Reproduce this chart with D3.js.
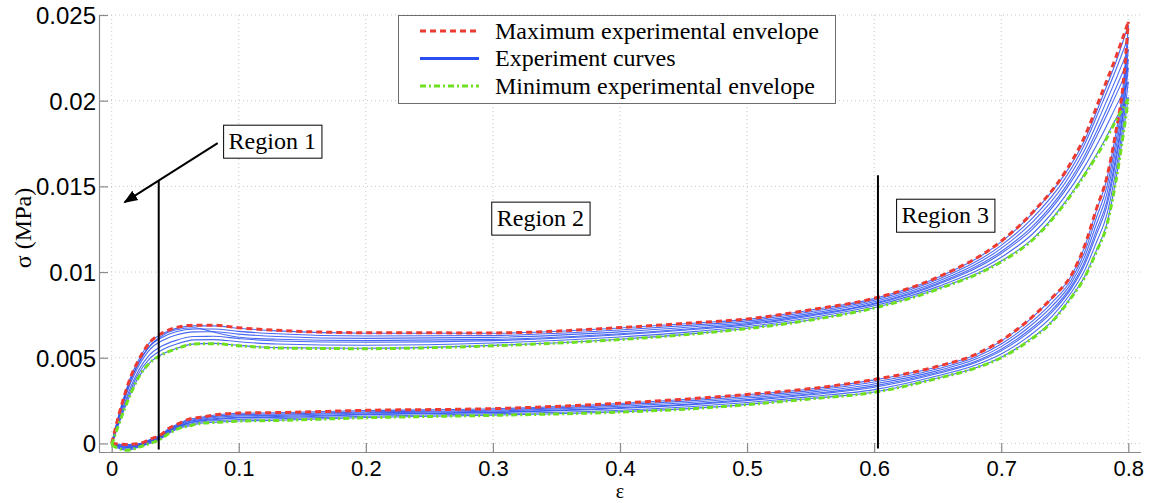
<!DOCTYPE html>
<html><head><meta charset="utf-8">
<script src="https://cdn.jsdelivr.net/npm/d3@7"></script>
<style>body{margin:0;background:#fff;overflow:hidden}</style>
</head><body><svg id="c" width="1149" height="503"></svg>
<script>
// ---------- DATA ----------
const loadStrain = [0, 0.005, 0.01, 0.015, 0.02, 0.03, 0.04, 0.05, 0.065, 0.08, 0.1, 0.13, 0.2, 0.3, 0.4, 0.46, 0.5, 0.55, 0.6, 0.65, 0.7, 0.725, 0.75, 0.765, 0.78, 0.79, 0.8];
const unloadStrain = [0.8, 0.796, 0.79, 0.783, 0.775, 0.765, 0.755, 0.74, 0.72, 0.7, 0.68, 0.65, 0.6, 0.55, 0.5, 0.46, 0.4, 0.3, 0.2, 0.13, 0.1, 0.085, 0.07, 0.06, 0.053, 0.045, 0.038, 0.032, 0.022, 0.012, 0];

const maxLoad = [0, 0.0015, 0.0028, 0.0039, 0.0047, 0.0059, 0.00645, 0.00675, 0.0069, 0.0069, 0.00675, 0.0066, 0.00646, 0.00645, 0.00676, 0.00705, 0.00726, 0.0078, 0.00847, 0.0097, 0.0118, 0.0135, 0.0158, 0.0178, 0.0206, 0.0225, 0.0246];
const maxUnload = [0.0246, 0.0210, 0.0181, 0.0155, 0.0137, 0.0114, 0.0098, 0.0085, 0.0071, 0.0060, 0.0052, 0.0045, 0.00373, 0.0032, 0.00286, 0.00263, 0.00235, 0.00203, 0.00193, 0.0018, 0.00177, 0.0017, 0.00153, 0.0014, 0.00117, 0.00088, 0.00047, 0.0003, 0.0, -0.00006, 0.0];
const minLoad = [-0.0001, 0.0010, 0.0020, 0.0029, 0.0037, 0.0047, 0.0052, 0.0055, 0.0058, 0.00582, 0.0057, 0.00557, 0.00553, 0.0057, 0.00606, 0.0064, 0.0067, 0.0072, 0.0079, 0.0090, 0.0106, 0.0119, 0.0140, 0.0156, 0.0174, 0.0188, 0.0201];
const minUnload = [0.0201, 0.0180, 0.0152, 0.0127, 0.0112, 0.0096, 0.0085, 0.0071, 0.0059, 0.0050, 0.0044, 0.0038, 0.00298, 0.0026, 0.00226, 0.00204, 0.00183, 0.00164, 0.0015, 0.00134, 0.0013, 0.00124, 0.00117, 0.001, 0.00088, 0.00058, 0.00023, 0.00005, -0.0002, -0.0004, -0.0001];

const experimentLoad = [
  [0, 0.0015, 0.0028, 0.0039, 0.0047, 0.0059, 0.0064, 0.0067, 0.00686, 0.00686, 0.00672, 0.00657, 0.00643, 0.00643, 0.00674, 0.00703, 0.00724, 0.00778, 0.00845, 0.00968, 0.01176, 0.01345, 0.0157, 0.0176, 0.0203, 0.0222, 0.0244],
  [0, 0.0014, 0.00264, 0.0037, 0.0045, 0.00566, 0.0062, 0.0065, 0.00668, 0.00668, 0.00654, 0.0064, 0.00627, 0.0063, 0.00662, 0.00692, 0.00715, 0.00768, 0.00836, 0.00956, 0.01156, 0.01318, 0.01544, 0.01736, 0.01996, 0.02176, 0.0237],
  [0, 0.00142, 0.00266, 0.00375, 0.00455, 0.0057, 0.0063, 0.00662, 0.00675, 0.0065, 0.0062, 0.00608, 0.006, 0.00607, 0.0064, 0.00672, 0.00698, 0.0075, 0.00818, 0.00935, 0.0112, 0.0127, 0.0149, 0.0167, 0.0190, 0.0207, 0.0224],
  [0, 0.00133, 0.00252, 0.00355, 0.00435, 0.00548, 0.00601, 0.00631, 0.00651, 0.00652, 0.00638, 0.00624, 0.00613, 0.00619, 0.00651, 0.00682, 0.00706, 0.00759, 0.00827, 0.00945, 0.01138, 0.01294, 0.01517, 0.01703, 0.01948, 0.0212, 0.0230],
  [-0.00004, 0.0012, 0.00232, 0.0033, 0.0041, 0.00518, 0.0057, 0.006, 0.00624, 0.00625, 0.00612, 0.00598, 0.0059, 0.006, 0.00634, 0.00666, 0.00692, 0.00744, 0.00813, 0.00928, 0.01108, 0.01254, 0.01472, 0.01648, 0.01868, 0.02028, 0.0219],
  [-0.00008, 0.00111, 0.00218, 0.00312, 0.00392, 0.00496, 0.00547, 0.00577, 0.00604, 0.00606, 0.00593, 0.0058, 0.00573, 0.00586, 0.00621, 0.00654, 0.00682, 0.00733, 0.00803, 0.00915, 0.01086, 0.01225, 0.0144, 0.01608, 0.0181, 0.01961, 0.0211],
  [-0.0001, 0.00102, 0.00202, 0.00292, 0.00372, 0.00472, 0.00522, 0.00552, 0.00581, 0.00584, 0.00572, 0.00559, 0.00555, 0.00572, 0.00608, 0.00642, 0.00672, 0.00722, 0.00792, 0.00902, 0.01064, 0.01195, 0.01405, 0.01566, 0.0175, 0.01891, 0.0202]
];
const experimentUnload = [
  [0.0244, 0.0209, 0.0180, 0.0154, 0.0136, 0.01135, 0.00976, 0.00846, 0.00706, 0.00597, 0.00518, 0.00448, 0.00371, 0.00318, 0.00284, 0.00261, 0.00233, 0.00202, 0.00192, 0.00179, 0.00176, 0.00169, 0.00152, 0.00139, 0.00116, 0.00087, 0.00046, 0.00029, -0.00001, -0.00007, 0],
  [0.0237, 0.0204, 0.01752, 0.01494, 0.0132, 0.01104, 0.00954, 0.00822, 0.00686, 0.0058, 0.00504, 0.00436, 0.00358, 0.00308, 0.00274, 0.00251, 0.00225, 0.00195, 0.00184, 0.00171, 0.00168, 0.00161, 0.00146, 0.00132, 0.00111, 0.00082, 0.00042, 0.00025, -0.00004, -0.00013, -0.00002],
  [0.0224, 0.0195, 0.01665, 0.0141, 0.01245, 0.0105, 0.00915, 0.0078, 0.0065, 0.0055, 0.0048, 0.00415, 0.00336, 0.0029, 0.00256, 0.00233, 0.00209, 0.00183, 0.00171, 0.00157, 0.00153, 0.00147, 0.00135, 0.0012, 0.00102, 0.00073, 0.00035, 0.00017, -0.0001, -0.00023, -0.00005],
  [0.0230, 0.01995, 0.0171, 0.01452, 0.01282, 0.01077, 0.00934, 0.00801, 0.00668, 0.00565, 0.00492, 0.00425, 0.00347, 0.00299, 0.00265, 0.00242, 0.00217, 0.00189, 0.00178, 0.00164, 0.00161, 0.00154, 0.0014, 0.00126, 0.00107, 0.00078, 0.00039, 0.00021, -0.00007, -0.00018, -0.00003],
  [0.0219, 0.0192, 0.01636, 0.01382, 0.0122, 0.01032, 0.00902, 0.00766, 0.00638, 0.0054, 0.00472, 0.00408, 0.00328, 0.00284, 0.0025, 0.00228, 0.00204, 0.0018, 0.00167, 0.00152, 0.00149, 0.00142, 0.00131, 0.00116, 0.001, 0.0007, 0.00033, 0.00015, -0.00012, -0.00026, -0.00006],
  [0.0211, 0.01866, 0.01584, 0.01332, 0.01175, 0.01, 0.00879, 0.00741, 0.00616, 0.00522, 0.00458, 0.00395, 0.00314, 0.00273, 0.00239, 0.00217, 0.00194, 0.00173, 0.00159, 0.00144, 0.0014, 0.00134, 0.00125, 0.00109, 0.00094, 0.00065, 0.00028, 0.0001, -0.00016, -0.00033, -0.00008],
  [0.0202, 0.0181, 0.01529, 0.01278, 0.01128, 0.00965, 0.00854, 0.00714, 0.00594, 0.00503, 0.00442, 0.00382, 0.003, 0.00262, 0.00228, 0.00206, 0.00185, 0.00165, 0.00151, 0.00135, 0.00131, 0.00125, 0.00118, 0.00101, 0.00089, 0.00059, 0.00024, 0.00006, -0.00019, -0.00039, -0.0001]
];

const xTicks = [0, 0.1, 0.2, 0.3, 0.4, 0.5, 0.6, 0.7, 0.8];
const xTickLabels = ["0", "0.1", "0.2", "0.3", "0.4", "0.5", "0.6", "0.7", "0.8"];
const yTicks = [0, 0.005, 0.01, 0.015, 0.02, 0.025];
const yTickLabels = ["0", "0.005", "0.01", "0.015", "0.02", "0.025"];
const legendLabels = ["Maximum experimental envelope", "Experiment curves", "Minimum experimental envelope"];
const regionLabels = ["Region 1", "Region 2", "Region 3"];
const regionAnchors = [[0.092, 0.01717], [0.303, 0.01268], [0.6216, 0.01285]];
const regionLines = [[0.037, 0.01533, -0.00035], [0.603, 0.01565, -0.0003]];
const arrowFromTo = [[0.0834, 0.01752], [0.0102, 0.01408]];

// ---------- CHART ----------
const svg = d3.select("#c");
const M = {l: 99, r: 1141, t: 15, b: 452};
const x = d3.scaleLinear().domain([-0.01, 0.81]).range([M.l, M.r]);
const y = d3.scaleLinear().domain([-0.0005, 0.025]).range([M.b, M.t]);

const RED = "#ee3b32", BLUE = "#2a4ff0", GREEN = "#6ee020";
const sans = "'Liberation Sans', Arial, sans-serif";
const serif = "'Liberation Serif', 'Times New Roman', serif";

// grid
const grid = svg.append("g");
grid.selectAll("line.vx").data(xTicks).join("line")
  .attr("x1", d => x(d)).attr("x2", d => x(d)).attr("y1", M.t).attr("y2", M.b)
  .attr("stroke", "#c8c8c8").attr("stroke-width", 1).attr("stroke-dasharray", "1,3");
grid.selectAll("line.hy").data(yTicks).join("line")
  .attr("x1", M.l).attr("x2", M.r).attr("y1", d => y(d)).attr("y2", d => y(d))
  .attr("stroke", "#c8c8c8").attr("stroke-width", 1).attr("stroke-dasharray", "1,3");

// axes
const xAxis = d3.axisBottom(x).tickValues(xTicks).tickSize(-9).tickFormat((d, i) => xTickLabels[i]);
const yAxis = d3.axisLeft(y).tickValues(yTicks).tickSize(-9).tickFormat((d, i) => yTickLabels[i]);
const gx = svg.append("g").attr("transform", `translate(0,${M.b})`).call(xAxis);
const gy = svg.append("g").attr("transform", `translate(${M.l},0)`).call(yAxis);
[gx, gy].forEach(g => {
  g.select(".domain").attr("stroke", "#8a8a8a").attr("stroke-width", 1.2);
  g.selectAll(".tick line").attr("stroke", "#8a8a8a").attr("stroke-width", 1.2);
  g.selectAll(".tick text").attr("fill", "#000").style("font-family", sans).style("font-size", "24px");
});
gx.select(".domain").attr("d", `M${M.l},0.5H${M.r}`);
gy.select(".domain").attr("d", `M0.5,${M.b}V${M.t}`);
gx.selectAll(".tick text").style("font-size", "22px").attr("dy", "0").attr("y", 24);
gy.selectAll(".tick text").attr("x", -3).attr("dy", "0.35em");

// axis labels
svg.append("text").attr("x", (M.l + M.r) / 2).attr("y", 498).attr("text-anchor", "middle")
  .style("font-family", serif).style("font-size", "20px").text("ε");
svg.append("text").attr("transform", `translate(31,228) rotate(-90)`).attr("text-anchor", "middle")
  .style("font-family", serif).style("font-size", "24px").text("σ (MPa)");

// curves
const line = d3.line().x(d => x(d[0])).y(d => y(d[1])).curve(d3.curveMonotoneX);
const loadPts = vals => loadStrain.map((e, i) => [e, vals[i]]);
const unloadPts = vals => unloadStrain.map((e, i) => [e, vals[i]]).reverse();
const curves = svg.append("g");

experimentLoad.forEach((vals, k) => {
  [loadPts(vals), unloadPts(experimentUnload[k])].forEach(p => {
    curves.append("path").attr("d", line(p)).attr("fill", "none")
      .attr("stroke", BLUE).attr("stroke-width", 1.1).attr("stroke-opacity", 0.85);
  });
});
[loadPts(maxLoad), unloadPts(maxUnload)].forEach(p => {
  curves.append("path").attr("d", line(p)).attr("fill", "none")
    .attr("stroke", RED).attr("stroke-width", 3).attr("stroke-dasharray", "6,4");
});
[loadPts(minLoad), unloadPts(minUnload)].forEach(p => {
  curves.append("path").attr("d", line(p)).attr("fill", "none")
    .attr("stroke", GREEN).attr("stroke-width", 3).attr("stroke-dasharray", "6,3,2,3");
});

// region lines
regionLines.forEach(r => {
  svg.append("line").attr("x1", x(r[0])).attr("x2", x(r[0])).attr("y1", y(r[1])).attr("y2", y(r[2]))
    .attr("stroke", "#000").attr("stroke-width", 2);
});

// arrow
svg.append("defs").append("marker").attr("id", "ah").attr("viewBox", "0 0 10 10")
  .attr("refX", 9).attr("refY", 5).attr("markerWidth", 14).attr("markerHeight", 14)
  .attr("markerUnits", "userSpaceOnUse").attr("orient", "auto")
  .append("path").attr("d", "M0,1 L10,5 L0,9 Z").attr("fill", "#000");
svg.append("line").attr("x1", x(arrowFromTo[0][0])).attr("y1", y(arrowFromTo[0][1]))
  .attr("x2", x(arrowFromTo[1][0])).attr("y2", y(arrowFromTo[1][1]))
  .attr("stroke", "#000").attr("stroke-width", 2).attr("marker-end", "url(#ah)");

// region labels
regionLabels.forEach((lab, i) => {
  const g = svg.append("g");
  const tx = x(regionAnchors[i][0]), ty = y(regionAnchors[i][1]);
  const rect = g.append("rect");
  const t = g.append("text").attr("x", tx).attr("y", ty)
    .style("font-family", serif).style("font-size", "24px").attr("fill", "#000").text(lab);
  const bb = t.node().getBBox();
  rect.attr("x", bb.x - 5).attr("y", ty - 24).attr("width", bb.width + 11).attr("height", 33)
    .attr("fill", "#fff").attr("stroke", "#000").attr("stroke-width", 1);
});

// legend
const lg = svg.append("g");
lg.append("rect").attr("x", 398.5).attr("y", 15.5).attr("width", 437).attr("height", 88)
  .attr("fill", "#fff").attr("stroke", "#6e6e6e").attr("stroke-width", 1);
const legStyles = [
  {c: RED, w: 3, da: "6,4"},
  {c: BLUE, w: 3, da: null},
  {c: GREEN, w: 3, da: "6,3,2,3"}
];
legendLabels.forEach((lab, i) => {
  const cy = 31 + i * 27.5;
  const ln = lg.append("line").attr("x1", 420).attr("x2", 479).attr("y1", cy).attr("y2", cy)
    .attr("stroke", legStyles[i].c).attr("stroke-width", legStyles[i].w);
  if (legStyles[i].da) ln.attr("stroke-dasharray", legStyles[i].da);
  lg.append("text").attr("x", 495).attr("y", cy + 7.5)
    .style("font-family", serif).style("font-size", "24px").attr("fill", "#000").text(lab);
});
</script></body></html>
